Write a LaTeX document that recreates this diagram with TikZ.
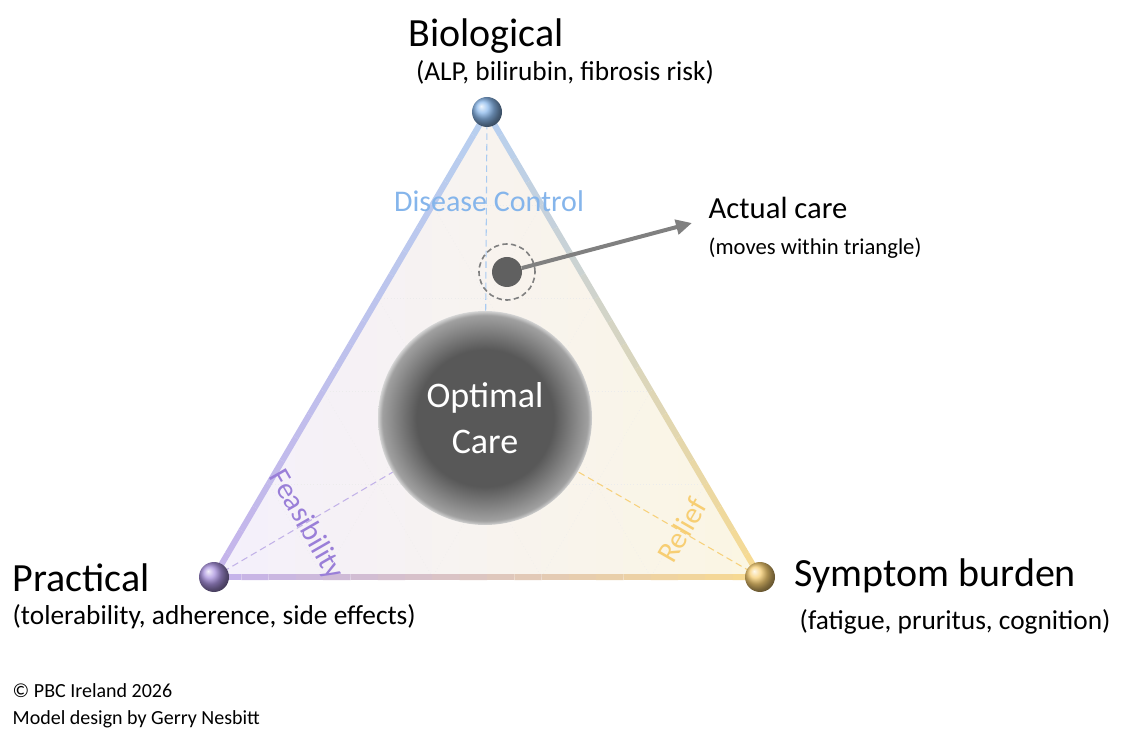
\documentclass[tikz,border=0pt]{standalone}
\usepackage{fontspec}
\setmainfont{Carlito}
\usetikzlibrary{arrows.meta,calc}
\definecolor{cb}{HTML}{6FA8E8}
\definecolor{cp}{HTML}{9A7FD8}
\definecolor{cy}{HTML}{F5C55A}
\definecolor{eb}{HTML}{B8CFEF}
\definecolor{ep}{HTML}{C5B3EA}
\definecolor{ey}{HTML}{F9DB8E}
\definecolor{g1}{HTML}{585858}
\definecolor{g2}{HTML}{A8A8A8}
\definecolor{fp}{HTML}{F4F0FB}
\definecolor{fy}{HTML}{FBF6E2}
\pgfdeclareradialshading{oc}{\pgfpoint{0bp}{0bp}}{color(0bp)=(g1); color(16bp)=(g1); color(24bp)=(g2!90!g1); color(25bp)=(g2!50!white); color(26bp)=(white); color(50bp)=(white)}
\begin{document}
\begin{tikzpicture}[x=0.75pt,y=-0.75pt,
  ball/.style={circle,minimum size=30pt*0.75,inner sep=0pt},
  lbl/.style={font=\fontsize{30}{36}\selectfont},
  sub/.style={font=\fontsize{20.5}{24}\selectfont},
  axis/.style={font=\fontsize{22.5}{27}\selectfont},
  dl/.style={dashed,line width=0.8pt,dash pattern=on 5pt off 3pt}]
\useasboundingbox (0,0) rectangle (1128,737);
\coordinate (T) at (487,112);
\coordinate (L) at (214,577);
\coordinate (R) at (760,577);
\coordinate (C) at (485,418);
% fill
\begin{scope}
\clip (T)--(L)--(R)--cycle;
\foreach \k [evaluate=\k as \q using \k*5] in {0,...,20}{
 \fill[fy!\q!fp] (214+\k*27.3-0.5,100) rectangle (214+\k*27.3+28,590);
}
\foreach \i in {1,...,4}{
 \draw[gray!15,dotted] ($(T)!\i/5!(L)$) -- ($(R)!\i/5!(L)$);
 \draw[gray!15,dotted] ($(T)!\i/5!(R)$) -- ($(L)!\i/5!(R)$);
 \draw[gray!15,dotted] ($(L)!\i/5!(T)$) -- ($(R)!\i/5!(T)$);
}
\end{scope}
% dashed spokes
\draw[dl,cb!60] (T) -- (C);
\draw[dl,cp!60] (L) -- (C);
\draw[dl,cy!80] (R) -- (C);
% edges
\foreach \i [evaluate=\i as \j using \i+1, evaluate=\i as \p using 100-\i*5] in {0,...,19}{
 \draw[line width=4.5pt,eb!\p!ep] ($(T)!\i/20!(L)$) -- ($(T)!\j/20!(L)$);
 \draw[line width=4.5pt,eb!\p!ey] ($(T)!\i/20!(R)$) -- ($(T)!\j/20!(R)$);
 \draw[line width=4.5pt,ep!\p!ey] ($(L)!\i/20!(R)$) -- ($(L)!\j/20!(R)$);
}
% optimal care
\node[circle,minimum width=214*0.75pt,minimum height=202*0.75pt,inner sep=0pt,shading=oc] (opt) at (C) {};
\node[text=white,align=center,font=\fontsize{27}{34}\selectfont] (optt) at (C) {Optimal\\Care};
% actual care
\node[circle,fill=g1!95,minimum size=30*0.75pt,inner sep=0pt] (act) at (507,272) {};
\node[circle,draw=gray,dashed,line width=1.2pt,dash pattern=on 4pt off 2.5pt,minimum size=56*0.75pt,inner sep=0pt] (actr) at (507,272) {};
\coordinate (arr) at (692,223);
\draw[gray,line width=3pt,-{Triangle[length=12pt,width=11pt]}] (act) -- (arr);
\node[font=\fontsize{23}{28}\selectfont,anchor=west] (ac) at (704,208) {Actual care};
\node[font=\fontsize{17}{20}\selectfont,anchor=west] (acs) at (704,248) {(moves within triangle)};
% balls
\node[ball,ball color=cb!80!white] (bT) at (T) {};
\node[ball,ball color=cp!85!white] (bL) at (L) {};
\node[ball,ball color=cy!85!white] (bR) at (R) {};
% labels
\node[lbl] (bio) at (486,36) {Biological};
\node[sub] (bios) at (565,72) {(ALP, bilirubin, fibrosis risk)};
\node[lbl,anchor=west] (pr) at (8,578) {Practical};
\node[sub,anchor=west] (prs) at (8,617) {(tolerability, adherence, side effects)};
\node[lbl,anchor=west] (sy) at (790,576) {Symptom burden};
\node[sub,anchor=west] (sys) at (795,622) {(fatigue, pruritus, cognition)};
\node[axis,text=cb!85] (dc) at (489,201) {Disease Control};
\node[axis,text=cp,rotate=-60] (fe) at (306,525) {Feasibility};
\node[axis,text=cy!85,rotate=60] (re) at (682,530) {Relief};
\node[anchor=west,align=left,font=\fontsize{15}{20}\selectfont] (cr) at (8,706) {© PBC Ireland 2026\\Model design by Gerry Nesbitt};
\end{tikzpicture}
\end{document}
